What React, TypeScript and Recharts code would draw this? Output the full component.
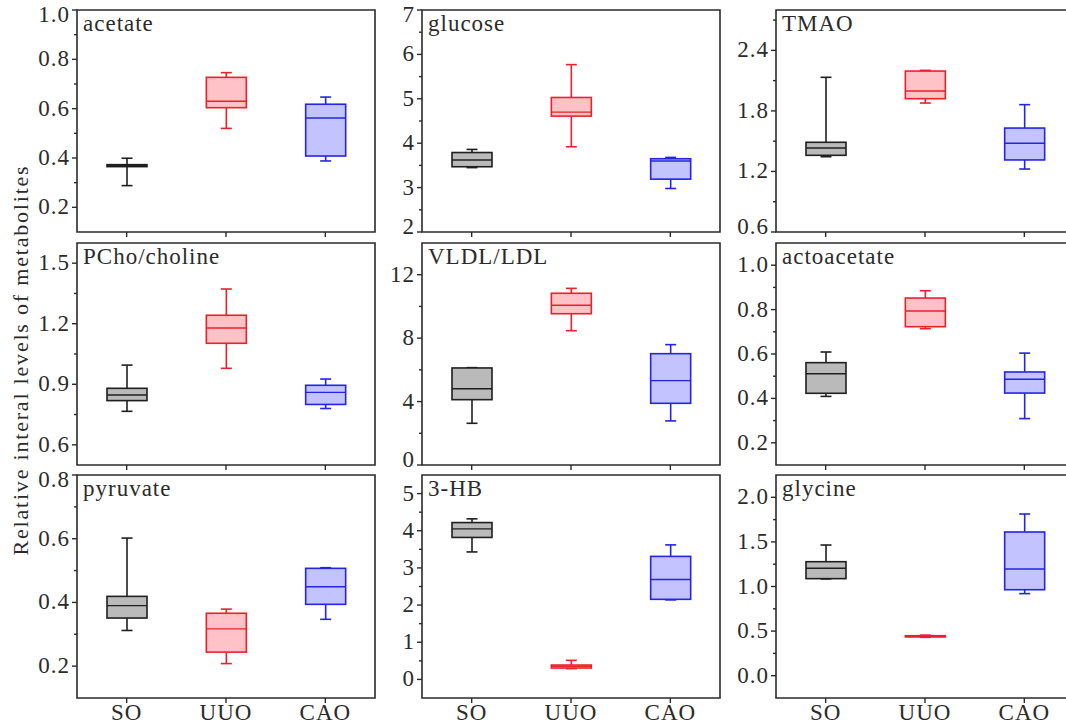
import React from "react";
import { ComposedChart, Bar, XAxis, YAxis, ReferenceArea } from "recharts";

// groups and their colours
const groups = ["SO", "UUO", "CAO"];
const strokeColors = ["#1f1f1f", "#e8222a", "#2424e6"];
const fillColors = ["#bababa", "#ffc3c7", "#c3c3ff"];

// box statistics: min, q1, median, q3, max
const acetate = [
  { group: "SO", min: 0.288, q1: 0.365, median: 0.369, q3: 0.373, max: 0.399 },
  { group: "UUO", min: 0.52, q1: 0.604, median: 0.63, q3: 0.727, max: 0.746 },
  { group: "CAO", min: 0.388, q1: 0.408, median: 0.562, q3: 0.618, max: 0.647 },
];
const glucose = [
  { group: "SO", min: 3.45, q1: 3.47, median: 3.62, q3: 3.79, max: 3.86 },
  { group: "UUO", min: 3.92, q1: 4.61, median: 4.7, q3: 5.03, max: 5.77 },
  { group: "CAO", min: 2.98, q1: 3.19, median: 3.6, q3: 3.65, max: 3.68 },
];
const tmao = [
  { group: "SO", min: 1.346, q1: 1.36, median: 1.432, q3: 1.489, max: 2.133 },
  { group: "UUO", min: 1.878, q1: 1.921, median: 1.997, q3: 2.195, max: 2.202 },
  { group: "CAO", min: 1.224, q1: 1.314, median: 1.479, q3: 1.63, max: 1.862 },
];
const pcho = [
  { group: "SO", min: 0.766, q1: 0.819, median: 0.847, q3: 0.88, max: 0.995 },
  { group: "UUO", min: 0.979, q1: 1.103, median: 1.179, q3: 1.242, max: 1.372 },
  { group: "CAO", min: 0.78, q1: 0.8, median: 0.86, q3: 0.895, max: 0.926 },
];
const vldl = [
  { group: "SO", min: 2.63, q1: 4.12, median: 4.81, q3: 6.12, max: 6.14 },
  { group: "UUO", min: 8.47, q1: 9.54, median: 10.07, q3: 10.83, max: 11.14 },
  { group: "CAO", min: 2.78, q1: 3.89, median: 5.32, q3: 7.02, max: 7.59 },
];
const actoacetate = [
  { group: "SO", min: 0.409, q1: 0.423, median: 0.511, q3: 0.561, max: 0.609 },
  { group: "UUO", min: 0.714, q1: 0.723, median: 0.794, q3: 0.852, max: 0.885 },
  { group: "CAO", min: 0.309, q1: 0.424, median: 0.486, q3: 0.519, max: 0.604 },
];
const pyruvate = [
  { group: "SO", min: 0.312, q1: 0.351, median: 0.39, q3: 0.419, max: 0.602 },
  { group: "UUO", min: 0.208, q1: 0.244, median: 0.317, q3: 0.366, max: 0.379 },
  { group: "CAO", min: 0.347, q1: 0.394, median: 0.449, q3: 0.507, max: 0.509 },
];
const hb3 = [
  { group: "SO", min: 3.43, q1: 3.82, median: 4.05, q3: 4.22, max: 4.32 },
  { group: "UUO", min: 0.29, q1: 0.306, median: 0.35, q3: 0.387, max: 0.513 },
  { group: "CAO", min: 2.14, q1: 2.155, median: 2.69, q3: 3.31, max: 3.62 },
];
const glycine = [
  { group: "SO", min: 1.085, q1: 1.088, median: 1.204, q3: 1.278, max: 1.465 },
  { group: "UUO", min: 0.43, q1: 0.435, median: 0.44, q3: 0.448, max: 0.455 },
  { group: "CAO", min: 0.92, q1: 0.964, median: 1.196, q3: 1.611, max: 1.813 },
];

// axis ticks
const acetateTicks = [0.2, 0.4, 0.6, 0.8, 1.0];
const acetateMinor = [0.3, 0.5, 0.7, 0.9];
const glucoseTicks = [2, 3, 4, 5, 6, 7];
const glucoseMinor = [2.5, 3.5, 4.5, 5.5, 6.5];
const tmaoTicks = [0.6, 1.2, 1.8, 2.4];
const tmaoMinor = [0.9, 1.5, 2.1, 2.7];
const pchoTicks = [0.6, 0.9, 1.2, 1.5];
const pchoMinor = [0.75, 1.05, 1.35];
const vldlTicks = [0, 4, 8, 12];
const vldlMinor = [2, 6, 10];
const actoTicks = [0.2, 0.4, 0.6, 0.8, 1.0];
const actoMinor = [0.3, 0.5, 0.7, 0.9];
const pyruvateTicks = [0.2, 0.4, 0.6, 0.8];
const pyruvateMinor = [0.3, 0.5, 0.7];
const hbTicks = [0, 1, 2, 3, 4, 5];
const hbMinor = [0.5, 1.5, 2.5, 3.5, 4.5];
const glycineTicks = [0.0, 0.5, 1.0, 1.5, 2.0];
const glycineMinor = [0.25, 0.75, 1.25, 1.75];

const panels = [
  { name: "acetate", data: acetate, domain: [0.1, 1.0], major: acetateTicks, minor: acetateMinor, digits: 1 },
  { name: "glucose", data: glucose, domain: [2, 7], major: glucoseTicks, minor: glucoseMinor, digits: 0 },
  { name: "TMAO", data: tmao, domain: [0.6, 2.8], major: tmaoTicks, minor: tmaoMinor, digits: 1 },
  { name: "PCho/choline", data: pcho, domain: [0.5, 1.6], major: pchoTicks, minor: pchoMinor, digits: 1 },
  { name: "VLDL/LDL", data: vldl, domain: [0, 14], major: vldlTicks, minor: vldlMinor, digits: 0 },
  { name: "actoacetate", data: actoacetate, domain: [0.1, 1.1], major: actoTicks, minor: actoMinor, digits: 1 },
  { name: "pyruvate", data: pyruvate, domain: [0.1, 0.8], major: pyruvateTicks, minor: pyruvateMinor, digits: 1 },
  { name: "3-HB", data: hb3, domain: [-0.5, 5.5], major: hbTicks, minor: hbMinor, digits: 0 },
  { name: "glycine", data: glycine, domain: [-0.25, 2.25], major: glycineTicks, minor: glycineMinor, digits: 1 },
];

const FONT = '"Liberation Serif", "Times New Roman", serif';
const INK = "#2b2b2b";
const colLeft = [77, 422, 776];
const rowTop = [10, 243, 475];
const rowHeight = [222, 222, 223];
const PLOT_W = 298;

function colorIndex(payload: any) {
  return Math.max(0, groups.indexOf(payload?.group));
}

function Whisker(props: any) {
  const { x, y, width, height, payload } = props;
  const i = colorIndex(payload);
  const cx = x + width / 2;
  const top = Math.min(y, y + height);
  const bot = Math.max(y, y + height);
  const c = strokeColors[i];
  return (
    <g stroke={c} strokeWidth={1.6} fill="none">
      <line x1={cx} y1={top} x2={cx} y2={bot} />
      <line x1={cx - 5.5} y1={top} x2={cx + 5.5} y2={top} />
      <line x1={cx - 5.5} y1={bot} x2={cx + 5.5} y2={bot} />
    </g>
  );
}

function Box(props: any) {
  const { x, y, width, height, payload } = props;
  const i = colorIndex(payload);
  const top = Math.min(y, y + height);
  const h = Math.abs(height);
  const span = payload.q3 - payload.q1;
  const my = span > 0 ? top + ((payload.q3 - payload.median) / span) * h : top;
  return (
    <g>
      <rect x={x} y={top} width={width} height={h} fill={fillColors[i]} stroke={strokeColors[i]} strokeWidth={1.6} />
      <line x1={x} y1={my} x2={x + width} y2={my} stroke={strokeColors[i]} strokeWidth={1.4} />
    </g>
  );
}

function Panel({ p, col, row }: { p: any; col: number; row: number }) {
  const ML = 66;
  const MT = 14;
  const MR = 4;
  const showX = row === 2;
  const bottom = showX ? 30 : 9;
  const plotH = rowHeight[row];
  const width = ML + PLOT_W + MR;
  const height = MT + plotH + bottom;
  const majorSet = new Set(p.major);
  const allTicks = [...p.major, ...p.minor].sort((a: number, b: number) => a - b);

  const YTick = (tp: any) => {
    const v = tp.payload.value;
    const isMajor = majorSet.has(v);
    let dy = 7;
    if (v === p.domain[1]) dy += 5;
    if (v === p.domain[0]) dy -= 5;
    return (
      <g>
        <line x1={tp.x} y1={tp.y} x2={tp.x - (isMajor ? 5 : 3)} y2={tp.y} stroke={INK} strokeWidth={1.4} />
        {isMajor && (
          <text x={tp.x - 7} y={tp.y + dy} textAnchor="end" fontFamily={FONT} fontSize={23} letterSpacing={1} fill={INK}>
            {v.toFixed(p.digits)}
          </text>
        )}
      </g>
    );
  };

  const XTick = (tp: any) =>
    showX ? (
      <text x={tp.x} y={tp.y + 15} textAnchor="middle" fontFamily={FONT} fontSize={23} letterSpacing={1} fill={INK}>
        {tp.payload.value}
      </text>
    ) : (
      <g />
    );

  return (
    <div style={{ position: "absolute", left: colLeft[col] - ML, top: rowTop[row] - MT }}>
      <ComposedChart width={width} height={height} data={p.data} margin={{ top: MT, right: MR, left: 0, bottom: 0 }}>
        <XAxis xAxisId="w" dataKey="group" hide />
        <XAxis
          xAxisId="b"
          dataKey="group"
          height={bottom}
          axisLine={false}
          tickSize={5}
          tickMargin={2}
          tickLine={{ stroke: INK, strokeWidth: 1.4 }}
          tick={XTick}
          interval={0}
        />
        <YAxis
          yAxisId="y"
          type="number"
          domain={p.domain}
          ticks={allTicks}
          width={ML}
          axisLine={false}
          tickLine={false}
          tickSize={0}
          tickMargin={0}
          tick={YTick}
          interval={0}
          allowDataOverflow
        />
        <ReferenceArea xAxisId="b" yAxisId="y" y1={p.domain[0]} y2={p.domain[1]} fill="none" stroke={INK} strokeWidth={1.6} />
        <Bar xAxisId="w" yAxisId="y" dataKey={(d: any) => [d.min, d.max]} barSize={40} shape={Whisker} isAnimationActive={false} />
        <Bar xAxisId="b" yAxisId="y" dataKey={(d: any) => [d.q1, d.q3]} barSize={40} shape={Box} isAnimationActive={false} />
      </ComposedChart>
    </div>
  );
}

export default function App() {
  return (
    <div style={{ position: "fixed", left: 0, top: 0, width: 1066, height: 724, overflow: "hidden", background: "#fff" }}>
      {panels.map((p, k) => (
        <Panel key={p.name} p={p} col={k % 3} row={Math.floor(k / 3)} />
      ))}
      <svg width={1066} height={724} style={{ position: "absolute", left: 0, top: 0, pointerEvents: "none" }}>
        {panels.map((p, k) => (
          <text
            key={p.name}
            x={colLeft[k % 3] + 6}
            y={rowTop[Math.floor(k / 3)] + 21}
            fontFamily={FONT}
            fontSize={23}
            letterSpacing={1}
            fill={INK}
          >
            {p.name}
          </text>
        ))}
        <text
          transform="translate(28, 360) rotate(-90)"
          textAnchor="middle"
          fontFamily={FONT}
          fontSize={22}
          letterSpacing={1.8}
          fill={INK}
        >
          Relative interal levels of metabolites
        </text>
      </svg>
    </div>
  );
}
